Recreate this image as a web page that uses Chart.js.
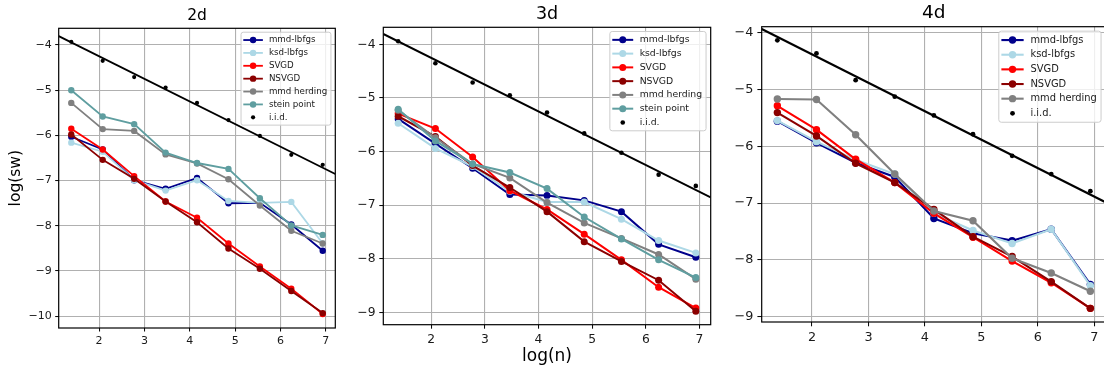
<!DOCTYPE html>
<html><head><meta charset="utf-8">
<script src="https://cdn.jsdelivr.net/npm/chart.js@4.4.0/dist/chart.umd.min.js"></script>
<style>
html,body{margin:0;padding:0;background:#fff;overflow:hidden;width:1104px;height:371px;position:relative;}
canvas{position:absolute;top:0;}
</style></head><body>
<canvas id="c2" width="350" height="371" style="left:0px"></canvas>
<canvas id="c3" width="370" height="371" style="left:350px"></canvas>
<canvas id="c4" width="380" height="371" style="left:730px"></canvas>
<script>
// ---------- data ----------
const LOG_N = [1.386, 2.079, 2.773, 3.466, 4.159, 4.852, 5.545, 6.238, 6.931];
const X_TICKS = [2, 3, 4, 5, 6, 7];
const Y_TICKS_2D = [-10, -9, -8, -7, -6, -5, -4];
const Y_TICKS_3D = [-9, -8, -7, -6, -5, -4];
const Y_TICKS_4D = [-9, -8, -7, -6, -5, -4];
const METHODS_23 = ['mmd-lbfgs', 'ksd-lbfgs', 'SVGD', 'NSVGD', 'mmd herding', 'stein point'];
const METHODS_4 = ['mmd-lbfgs', 'ksd-lbfgs', 'SVGD', 'NSVGD', 'mmd herding'];
const IID_LABEL = 'i.i.d.';
const IID_RATE = -0.5;

// 2d
const D2_MMD_LBFGS   = [-6.03, -6.31, -6.99, -7.18, -6.94, -7.50, -7.49, -7.97, -8.55];
const D2_KSD_LBFGS   = [-6.16, -6.36, -6.99, -7.22, -6.99, -7.45, -7.49, -7.47, -8.39];
const D2_SVGD        = [-5.85, -6.31, -6.90, -7.46, -7.82, -8.39, -8.90, -9.39, -9.95];
const D2_NSVGD       = [-5.98, -6.54, -6.96, -7.46, -7.92, -8.50, -8.95, -9.44, -9.93];
const D2_MMD_HERDING = [-5.28, -5.86, -5.90, -6.42, -6.62, -6.97, -7.55, -8.11, -8.39];
const D2_STEIN_POINT = [-5.00, -5.58, -5.75, -6.38, -6.61, -6.74, -7.39, -7.99, -8.20];
const D2_IID         = [-3.93, -4.35, -4.71, -4.94, -5.28, -5.66, -6.01, -6.43, -6.65];

// 3d
const D3_MMD_LBFGS   = [-5.39, -5.85, -6.31, -6.80, -6.82, -6.91, -7.12, -7.73, -7.97];
const D3_KSD_LBFGS   = [-5.47, -5.94, -6.28, -6.74, -6.94, -6.94, -7.26, -7.66, -7.89];
const D3_SVGD        = [-5.29, -5.57, -6.10, -6.73, -7.08, -7.54, -8.02, -8.53, -8.92];
const D3_NSVGD       = [-5.34, -5.72, -6.26, -6.67, -7.12, -7.68, -8.05, -8.40, -8.98];
const D3_MMD_HERDING = [-5.23, -5.74, -6.23, -6.49, -6.95, -7.33, -7.62, -7.92, -8.38];
const D3_STEIN_POINT = [-5.21, -5.80, -6.23, -6.39, -6.69, -7.22, -7.63, -8.02, -8.35];
const D3_IID         = [-3.94, -4.35, -4.71, -4.95, -5.27, -5.66, -6.02, -6.43, -6.64];

// 4d
const D4_MMD_LBFGS   = [-5.56, -5.94, -6.29, -6.54, -7.27, -7.53, -7.66, -7.46, -8.43];
const D4_KSD_LBFGS   = [-5.55, -5.92, -6.24, -6.49, -7.18, -7.48, -7.71, -7.46, -8.45];
const D4_SVGD        = [-5.29, -5.71, -6.23, -6.64, -7.18, -7.60, -8.02, -8.40, -8.85];
const D4_NSVGD       = [-5.41, -5.82, -6.30, -6.64, -7.11, -7.59, -7.94, -8.38, -8.85];
const D4_MMD_HERDING = [-5.17, -5.18, -5.80, -6.49, -7.14, -7.31, -7.97, -8.23, -8.55];
const D4_IID         = [-4.14, -4.37, -4.84, -5.13, -5.46, -5.79, -6.17, -6.49, -6.79];

// ---------- styles ----------
const COLORS = {
  'mmd-lbfgs': '#00008b', 'ksd-lbfgs': '#add8e6', 'SVGD': '#ff0000',
  'NSVGD': '#8b0000', 'mmd herding': '#808080', 'stein point': '#5f9ea0'
};
const FONT = '"DejaVu Sans", sans-serif';
Chart.defaults.font.family = FONT;
Chart.defaults.color = '#000';

function fmt(v) { return (v < 0 ? '\u2212' : '') + Math.abs(v); }
function mean(a) { return a.reduce((s, v) => s + v, 0) / a.length; }

const framePlugin = {
  id: 'frame',
  afterDatasetsDraw(chart) {
    const { ctx, chartArea: a } = chart;
    ctx.save();
    ctx.strokeStyle = '#000';
    ctx.lineWidth = 1.2;
    ctx.strokeRect(a.left, a.top, a.right - a.left, a.bottom - a.top);
    ctx.restore();
  }
};

const legendPlugin = {
  id: 'mplLegend',
  afterDraw(chart, args, opts) {
    const { ctx, chartArea: a } = chart;
    const fs = opts.fontSize;
    const items = chart.data.datasets.filter(d => d.inLegend).sort((p, q) => p.legendIndex - q.legendIndex);
    ctx.save();
    ctx.font = fs + 'px ' + FONT;
    const maxW = Math.max(...items.map(d => ctx.measureText(d.label).width));
    const textOff = 3.2 * fs;
    const w = textOff + maxW + 0.42 * fs;
    const h = (0.9 * 2 + 1.48 * (items.length - 1)) * fs;
    const right = a.right - 0.5 * fs;
    const left = right - w;
    const top = a.top + 0.45 * fs;
    ctx.beginPath();
    ctx.roundRect(left, top, w, h, 0.25 * fs);
    ctx.fillStyle = 'rgba(255,255,255,0.8)';
    ctx.fill();
    ctx.strokeStyle = '#cccccc';
    ctx.lineWidth = 1;
    ctx.stroke();
    items.forEach((d, i) => {
      const y = top + 0.9 * fs + i * 1.48 * fs;
      const x0 = left + 0.26 * fs, x1 = x0 + 2.25 * fs, xc = (x0 + x1) / 2;
      if (d.showLine) {
        ctx.beginPath();
        ctx.moveTo(x0, y); ctx.lineTo(x1, y);
        ctx.strokeStyle = d.borderColor; ctx.lineWidth = d.borderWidth;
        ctx.stroke();
      }
      ctx.beginPath();
      ctx.arc(xc, y, d.pointRadius, 0, Math.PI * 2);
      ctx.fillStyle = d.backgroundColor;
      ctx.fill();
      ctx.fillStyle = '#1a1a1a';
      ctx.textBaseline = 'middle';
      ctx.textAlign = 'left';
      ctx.fillText(d.label, left + textOff, y);
    });
    ctx.restore();
  }
};

function makePanel(p) {
  const span = LOG_N[LOG_N.length - 1] - LOG_N[0];
  const xMin = LOG_N[0] - 0.05 * span, xMax = LOG_N[LOG_N.length - 1] + 0.05 * span;
  const datasets = [];
  p.methods.forEach((name, i) => {
    datasets.push({
      label: name,
      data: LOG_N.map((x, j) => ({ x: x, y: p.series[i][j] })),
      showLine: true,
      borderColor: COLORS[name], backgroundColor: COLORS[name],
      borderWidth: p.lw, pointRadius: p.pr, pointBorderWidth: 0, pointHoverRadius: p.pr,
      order: 100 - i, inLegend: true, legendIndex: i
    });
  });
  datasets.push({
    label: IID_LABEL,
    data: LOG_N.map((x, j) => ({ x: x, y: p.iid[j] })),
    showLine: false, borderColor: '#000', backgroundColor: '#000',
    pointRadius: p.ir, pointBorderWidth: 0, order: 2, inLegend: true, legendIndex: p.methods.length
  });
  const b0 = mean(p.iid) - IID_RATE * mean(LOG_N);
  datasets.push({
    label: 'rate',
    data: [{ x: xMin, y: b0 + IID_RATE * xMin }, { x: xMax, y: b0 + IID_RATE * xMax }],
    showLine: true, borderColor: '#000', backgroundColor: '#000',
    borderWidth: p.lw, pointRadius: 0, order: 1, inLegend: false
  });
  new Chart(document.getElementById(p.id), {
    type: 'scatter',
    data: { datasets: datasets },
    options: {
      responsive: false, animation: false, events: [],
      layout: { padding: { left: 0, right: p.padRight, top: 0, bottom: 0 } },
      plugins: {
        legend: { display: false }, tooltip: { enabled: false },
        title: {
          display: true, text: p.title, fullSize: false, color: '#000',
          font: { size: p.titleSize, weight: 'normal', family: FONT },
          padding: { top: p.titlePadTop, bottom: p.titlePadBottom }
        },
        mplLegend: { fontSize: p.legendSize }
      },
      scales: {
        x: {
          type: 'linear', min: xMin, max: xMax,
          afterBuildTicks: s => { s.ticks = X_TICKS.map(v => ({ value: v })); },
          afterFit: s => { s.height = p.xh; },
          ticks: { callback: fmt, font: { size: p.tickSize }, color: '#1a1a1a', padding: p.tickPad, maxRotation: 0, minRotation: 0, autoSkip: false },
          grid: { color: '#b0b0b0', lineWidth: 1.1, tickColor: '#000', tickLength: p.tickLen, tickWidth: 1 },
          border: { display: false },
          title: p.xTitle ? { display: true, text: p.xTitle, color: '#000', font: { size: p.xTitleSize, family: FONT }, padding: { top: 0, bottom: p.xTitlePad } } : { display: false }
        },
        y: {
          type: 'linear', min: p.yMin, max: p.yMax,
          afterBuildTicks: s => { s.ticks = p.yTicks.map(v => ({ value: v })); },
          afterFit: s => { s.width = p.yw; },
          ticks: { callback: fmt, font: { size: p.tickSize }, color: '#1a1a1a', padding: p.tickPad, autoSkip: false },
          grid: { color: '#b0b0b0', lineWidth: 1.1, tickColor: '#000', tickLength: p.tickLen, tickWidth: 1 },
          border: { display: false },
          title: p.yTitle ? { display: true, text: p.yTitle, color: '#000', font: { size: p.yTitleSize, family: FONT }, padding: { top: p.yTitlePad, bottom: 0 } } : { display: false }
        }
      }
    },
    plugins: [framePlugin, legendPlugin]
  });
}

makePanel({
  id: 'c2', title: '2d', methods: METHODS_23,
  series: [D2_MMD_LBFGS, D2_KSD_LBFGS, D2_SVGD, D2_NSVGD, D2_MMD_HERDING, D2_STEIN_POINT],
  iid: D2_IID, yTicks: Y_TICKS_2D, yMin: -10.26, yMax: -3.63,
  yw: 58.7, padRight: 14.7, xh: 43,
  titleSize: 15.5, titlePadTop: 6.7, titlePadBottom: 3.0,
  tickSize: 11, tickPad: 3.5, tickLen: 3.5,
  yTitle: 'log(sw)', yTitleSize: 15.5, yTitlePad: 6.4,
  legendSize: 8.7, lw: 1.8, pr: 3.2, ir: 2.1
});
makePanel({
  id: 'c3', title: '3d', methods: METHODS_23,
  series: [D3_MMD_LBFGS, D3_KSD_LBFGS, D3_SVGD, D3_NSVGD, D3_MMD_HERDING, D3_STEIN_POINT],
  iid: D3_IID, yTicks: Y_TICKS_3D, yMin: -9.23, yMax: -3.68,
  yw: 33.3, padRight: 9.3, xh: 46.3,
  titleSize: 17.5, titlePadTop: 3.7, titlePadBottom: 2.6,
  tickSize: 12.3, tickPad: 3.8, tickLen: 4,
  xTitle: 'log(n)', xTitleSize: 17, xTitlePad: 4.1,
  legendSize: 9.3, lw: 2.0, pr: 3.5, ir: 2.3
});
makePanel({
  id: 'c4', title: '4d', methods: METHODS_4,
  series: [D4_MMD_LBFGS, D4_KSD_LBFGS, D4_SVGD, D4_NSVGD, D4_MMD_HERDING],
  iid: D4_IID, yTicks: Y_TICKS_4D, yMin: -9.09, yMax: -3.90,
  yw: 31.7, padRight: 2.3, xh: 49,
  titleSize: 18.5, titlePadTop: 2.2, titlePadBottom: 2.3,
  tickSize: 12.8, tickPad: 4, tickLen: 4.3,
  legendSize: 9.9, lw: 2.1, pr: 3.7, ir: 2.4
});
</script>
</body></html>
